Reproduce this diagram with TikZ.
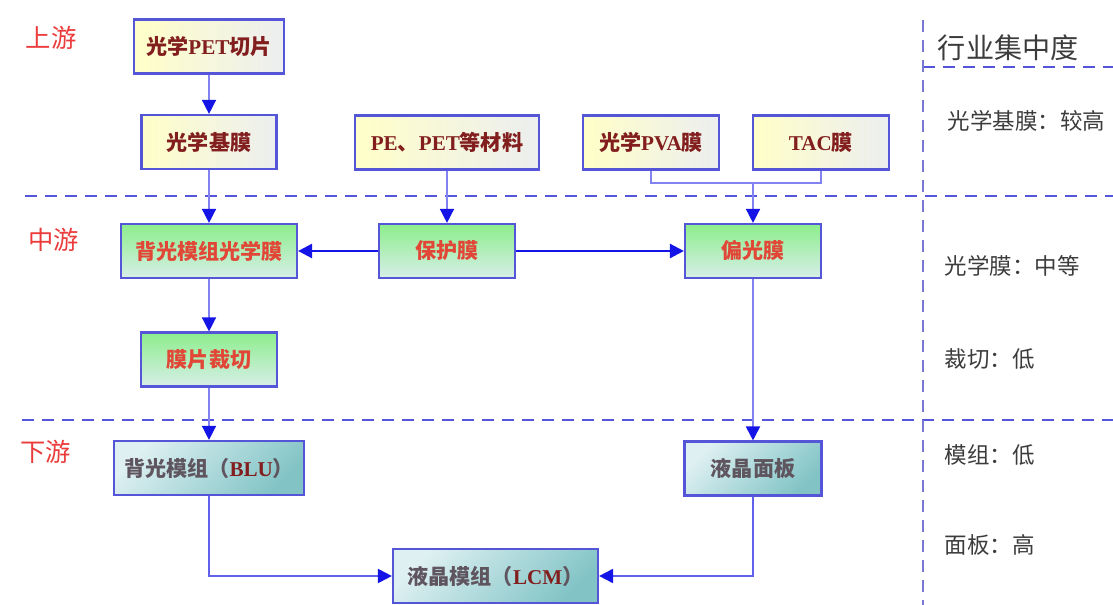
\documentclass[tikz,border=0pt]{standalone}
\usepackage{fontspec}
\setmainfont{Noto Sans CJK SC}
\newfontfamily\latf{Liberation Serif}
\usetikzlibrary{arrows.meta}

\definecolor{boxline}{RGB}{85,85,215}
\definecolor{linkc}{RGB}{130,130,240}
\definecolor{arrc}{RGB}{20,20,230}
\definecolor{sepc}{RGB}{85,85,220}
\definecolor{vsepc}{RGB}{120,120,210}
\definecolor{stagec}{RGB}{235,60,60}
\definecolor{notec}{RGB}{60,60,60}
\definecolor{yfill}{RGB}{255,255,200}
\definecolor{yfill2}{RGB}{236,238,240}
\definecolor{gfill}{RGB}{140,238,140}
\definecolor{gfill2}{RGB}{215,238,232}
\definecolor{tfill}{RGB}{222,240,242}
\definecolor{tfill2}{RGB}{130,196,198}
\definecolor{ytext}{RGB}{130,30,30}
\definecolor{gtext}{RGB}{225,70,55}
\definecolor{ttext}{RGB}{95,85,95}

\newcommand{\pname}[1]{{\latf\bfseries\color{ytext}#1}}

\begin{document}
\begin{tikzpicture}[x=0.025cm, y=-0.025cm,
    box/.style={draw=boxline, line width=1.5pt, minimum height=1.35cm, inner sep=0pt,
        font=\fontsize{15}{18}\selectfont\bfseries},
    ybox/.style={box, left color=yfill, right color=yfill2, text=ytext},
    gbox/.style={box, top color=gfill, bottom color=gfill2, text=gtext},
    tbox/.style={box, top color=tfill, bottom color=tfill2, shading angle=45, text=ttext},
    link/.style={draw=linkc, line width=1pt},
    arr/.style={link, -{Triangle[length=3.5mm, width=3.5mm, color=arrc]}},
    harr/.style={arr, draw=arrc, line width=1.8pt},
    barr/.style={arr, draw=linkc!70!arrc, line width=1.4pt},
    sep/.style={draw=sepc, line width=1.8pt, dash pattern=on 0.3cm off 0.2cm},
    vsep/.style={draw=vsepc, line width=1.5pt, dash pattern=on 0.3cm off 0.2cm},
    stage/.style={text=stagec, font=\fontsize{18}{20}\selectfont},
    note/.style={anchor=west, text=notec, font=\fontsize{16}{18}\selectfont}]
    \useasboundingbox (0,0) rectangle (1113,605);

    % Separators
    \draw[sep] (25,196) -- (1113,196);
    \draw[sep] (22,420) -- (1113,420);
    \draw[sep] (923,67) -- (1113,67);
    \draw[vsep] (923,20) -- (923,605);

    % Stage labels
    \node[stage] (up) at (51,38) {上游};
    \node[stage] (mid) at (54,240) {中游};
    \node[stage] (down) at (46,452) {下游};

    % Upstream
    \node[ybox, minimum width=3.75cm] (pet) at (209,46.5) {光学\pname{PET}切片};
    \node[ybox, minimum width=3.375cm] (jimo) at (209,142) {光学基膜};
    \node[ybox, minimum width=4.6cm] (pe) at (447,142.5) {\pname{PE}、\pname{PET}等材料};
    \node[ybox, minimum width=3.4cm] (pva) at (651,142.5) {光学\pname{PVA}膜};
    \node[ybox, minimum width=3.4cm] (tac) at (821,142.5) {\pname{TAC}膜};

    % Midstream
    \node[gbox, minimum width=4.4cm] (bgm) at (209,251) {背光模组光学膜};
    \node[gbox, minimum width=3.4cm] (bhm) at (447,251) {保护膜};
    \node[gbox, minimum width=3.4cm] (pgm) at (753,251) {偏光膜};
    \node[gbox, minimum width=3.4cm] (cq) at (209,359.5) {膜片裁切};

    % Downstream
    \node[tbox, minimum width=4.75cm] (blu) at (209,468) {背光模组（\pname{BLU}）};
    \node[tbox, minimum width=3.425cm] (mb) at (753,468.5) {液晶面板};
    \node[tbox, minimum width=5.125cm] (lcm) at (495.5,576) {液晶模组（\pname{LCM}）};

    % Connectors
    \draw[arr] (pet) -- (jimo);
    \draw[arr] (jimo) -- (bgm);
    \draw[arr] (pe) -- (bhm);
    \coordinate (jn) at (753,183);
    \draw[link, line width=1.3pt] (pva.south) |- (jn) -| (tac.south);
    \draw[arr] (jn) -- (pgm.north);
    \draw[harr] (bhm) -- (bgm);
    \draw[harr] (bhm) -- (pgm);
    \draw[arr] (bgm) -- (cq);
    \draw[arr] (cq) -- (blu);
    \draw[arr, line width=1.3pt] (pgm) -- (mb);
    \draw[barr] (blu.south) |- (lcm.west);
    \draw[barr] (mb.south) |- (lcm.east);

    % Concentration
    \node[note, font=\fontsize{20}{22}\selectfont] (hy) at (933,48) {行业集中度};
    \node[note] (n1) at (943,121) {光学基膜：较高};
    \node[note] (n2) at (940,266) {光学膜：中等};
    \node[note] (n3) at (940,359) {裁切：低};
    \node[note] (n4) at (940,455) {模组：低};
    \node[note] (n5) at (940,545) {面板：高};
\end{tikzpicture}
\end{document}
